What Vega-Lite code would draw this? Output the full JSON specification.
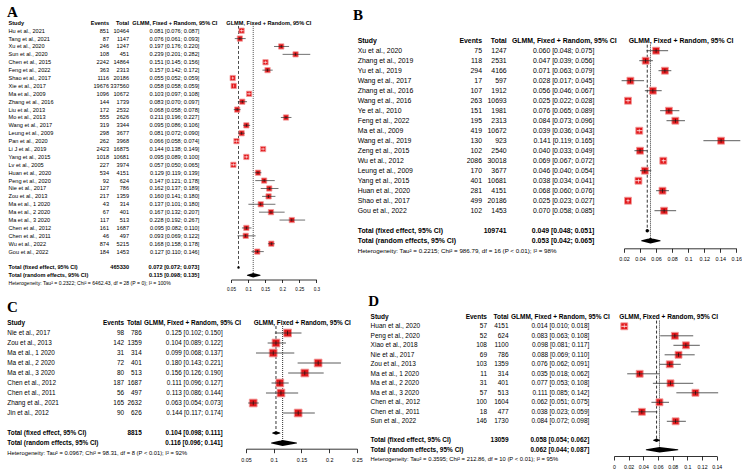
{
"$schema":"https://vega.github.io/schema/vega-lite/v6.json",
"padding":0,
"background":"white",
"spacing":0,
"config":{"view":{"stroke":null},"font":"Liberation Sans","text":{"color":"black"},"axis":{"grid":false,"domainColor":"black","domainWidth":0.8,"tickColor":"black","tickWidth":0.8,"labelColor":"black","labelFlush":false,"labelOverlap":false,"labelFont":"Liberation Sans"}},
"datasets":{
"A":[
{"i":0,"kind":"header","panel":"A","study":"Study","events":"Events","total":"Total","ci":"GLMM, Fixed + Random, 95% CI"},
{"i":1,"kind":"study","study":"Hu et al., 2021","events":851,"total":10464,"ci":"0.081 [0.076; 0.087]","est":0.081,"lo":0.076,"hi":0.087},
{"i":2,"kind":"study","study":"Tang et al., 2021","events":87,"total":1147,"ci":"0.076 [0.061; 0.093]","est":0.076,"lo":0.061,"hi":0.093},
{"i":3,"kind":"study","study":"Xu et al., 2020","events":246,"total":1247,"ci":"0.197 [0.176; 0.220]","est":0.197,"lo":0.176,"hi":0.220},
{"i":4,"kind":"study","study":"Sun et al., 2020","events":108,"total":451,"ci":"0.239 [0.201; 0.282]","est":0.239,"lo":0.201,"hi":0.282},
{"i":5,"kind":"study","study":"Chen et al., 2015","events":2242,"total":14864,"ci":"0.151 [0.145; 0.156]","est":0.151,"lo":0.145,"hi":0.156},
{"i":6,"kind":"study","study":"Feng et al., 2022","events":363,"total":2313,"ci":"0.157 [0.142; 0.172]","est":0.157,"lo":0.142,"hi":0.172},
{"i":7,"kind":"study","study":"Shao et al., 2017","events":1116,"total":20186,"ci":"0.055 [0.052; 0.059]","est":0.055,"lo":0.052,"hi":0.059},
{"i":8,"kind":"study","study":"Xie et al., 2017","events":19676,"total":337560,"ci":"0.058 [0.058; 0.059]","est":0.058,"lo":0.058,"hi":0.059},
{"i":9,"kind":"study","study":"Ma et al., 2009","events":1096,"total":10672,"ci":"0.103 [0.097; 0.108]","est":0.103,"lo":0.097,"hi":0.108},
{"i":10,"kind":"study","study":"Zhang et al., 2016","events":144,"total":1739,"ci":"0.083 [0.070; 0.097]","est":0.083,"lo":0.070,"hi":0.097},
{"i":11,"kind":"study","study":"Liu et al., 2013","events":172,"total":2532,"ci":"0.068 [0.058; 0.078]","est":0.068,"lo":0.058,"hi":0.078},
{"i":12,"kind":"study","study":"Mo et al., 2013","events":555,"total":2626,"ci":"0.211 [0.196; 0.227]","est":0.211,"lo":0.196,"hi":0.227},
{"i":13,"kind":"study","study":"Wang et al., 2017","events":319,"total":3344,"ci":"0.095 [0.086; 0.106]","est":0.095,"lo":0.086,"hi":0.106},
{"i":14,"kind":"study","study":"Leung et al., 2009","events":298,"total":3677,"ci":"0.081 [0.072; 0.090]","est":0.081,"lo":0.072,"hi":0.090},
{"i":15,"kind":"study","study":"Pan et al., 2020","events":262,"total":3968,"ci":"0.066 [0.058; 0.074]","est":0.066,"lo":0.058,"hi":0.074},
{"i":16,"kind":"study","study":"Li J et al., 2019","events":2423,"total":16875,"ci":"0.144 [0.138; 0.149]","est":0.144,"lo":0.138,"hi":0.149},
{"i":17,"kind":"study","study":"Yang et al., 2015","events":1018,"total":10681,"ci":"0.095 [0.089; 0.100]","est":0.095,"lo":0.089,"hi":0.100},
{"i":18,"kind":"study","study":"Lv et al., 2005","events":227,"total":3974,"ci":"0.057 [0.050; 0.065]","est":0.057,"lo":0.050,"hi":0.065},
{"i":19,"kind":"study","study":"Huan et al., 2020","events":534,"total":4151,"ci":"0.129 [0.119; 0.139]","est":0.129,"lo":0.119,"hi":0.139},
{"i":20,"kind":"study","study":"Peng et al., 2020","events":92,"total":624,"ci":"0.147 [0.121; 0.178]","est":0.147,"lo":0.121,"hi":0.178},
{"i":21,"kind":"study","study":"Nie et al., 2017","events":127,"total":786,"ci":"0.162 [0.137; 0.189]","est":0.162,"lo":0.137,"hi":0.189},
{"i":22,"kind":"study","study":"Zou et al., 2013","events":217,"total":1359,"ci":"0.160 [0.141; 0.180]","est":0.160,"lo":0.141,"hi":0.180},
{"i":23,"kind":"study","study":"Ma  et al., 1 2020","events":43,"total":314,"ci":"0.137 [0.101; 0.180]","est":0.137,"lo":0.101,"hi":0.180},
{"i":24,"kind":"study","study":"Ma  et al., 2 2020","events":67,"total":401,"ci":"0.167 [0.132; 0.207]","est":0.167,"lo":0.132,"hi":0.207},
{"i":25,"kind":"study","study":"Ma  et al., 3 2020","events":117,"total":513,"ci":"0.228 [0.192; 0.267]","est":0.228,"lo":0.192,"hi":0.267},
{"i":26,"kind":"study","study":"Chen et al., 2012","events":161,"total":1687,"ci":"0.095 [0.082; 0.110]","est":0.095,"lo":0.082,"hi":0.110},
{"i":27,"kind":"study","study":"Chen et al., 2011","events":46,"total":497,"ci":"0.093 [0.069; 0.122]","est":0.093,"lo":0.069,"hi":0.122},
{"i":28,"kind":"study","study":"Wu et al., 2022","events":874,"total":5215,"ci":"0.168 [0.158; 0.178]","est":0.168,"lo":0.158,"hi":0.178},
{"i":29,"kind":"study","study":"Gou et al., 2022","events":184,"total":1453,"ci":"0.127 [0.110; 0.146]","est":0.127,"lo":0.110,"hi":0.146},
{"i":31,"kind":"fixed","study":"Total (fixed effect, 95% CI)","total":465330,"ci":"0.072 [0.072; 0.073]","est":0.072,"lo":0.0715,"hi":0.073},
{"i":32,"kind":"random","study":"Total (random effects, 95% CI)","ci":"0.115 [0.098; 0.135]","est":0.115,"lo":0.098,"hi":0.135},
{"i":33,"kind":"het","study":"Heterogeneity: Tau² = 0.2322; Chi² = 6462.43, df = 28 (P = 0); I² = 100%"}
],
"B":[
{"i":0,"kind":"header","panel":"B","study":"Study","events":"Events","total":"Total","ci":"GLMM, Fixed + Random, 95% CI"},
{"i":1,"kind":"study","study":"Xu et al., 2020","events":75,"total":1247,"ci":"0.060 [0.048; 0.075]","est":0.060,"lo":0.048,"hi":0.075},
{"i":2,"kind":"study","study":"Zhang et al., 2019","events":118,"total":2531,"ci":"0.047 [0.039; 0.056]","est":0.047,"lo":0.039,"hi":0.056},
{"i":3,"kind":"study","study":"Yu et al., 2019","events":294,"total":4166,"ci":"0.071 [0.063; 0.079]","est":0.071,"lo":0.063,"hi":0.079},
{"i":4,"kind":"study","study":"Wang et al., 2017","events":17,"total":597,"ci":"0.028 [0.017; 0.045]","est":0.028,"lo":0.017,"hi":0.045},
{"i":5,"kind":"study","study":"Zhang et al., 2016","events":107,"total":1912,"ci":"0.056 [0.046; 0.067]","est":0.056,"lo":0.046,"hi":0.067},
{"i":6,"kind":"study","study":"Wang et al., 2016","events":263,"total":10693,"ci":"0.025 [0.022; 0.028]","est":0.025,"lo":0.022,"hi":0.028},
{"i":7,"kind":"study","study":"Ye et al., 2010","events":151,"total":1981,"ci":"0.076 [0.065; 0.089]","est":0.076,"lo":0.065,"hi":0.089},
{"i":8,"kind":"study","study":"Feng et al., 2022","events":195,"total":2313,"ci":"0.084 [0.073; 0.096]","est":0.084,"lo":0.073,"hi":0.096},
{"i":9,"kind":"study","study":"Ma et al., 2009","events":419,"total":10672,"ci":"0.039 [0.036; 0.043]","est":0.039,"lo":0.036,"hi":0.043},
{"i":10,"kind":"study","study":"Wang et al., 2019","events":130,"total":923,"ci":"0.141 [0.119; 0.165]","est":0.141,"lo":0.119,"hi":0.165},
{"i":11,"kind":"study","study":"Zeng et al., 2015","events":102,"total":2540,"ci":"0.040 [0.033; 0.049]","est":0.040,"lo":0.033,"hi":0.049},
{"i":12,"kind":"study","study":"Wu et al., 2012","events":2086,"total":30018,"ci":"0.069 [0.067; 0.072]","est":0.069,"lo":0.067,"hi":0.072},
{"i":13,"kind":"study","study":"Leung et al., 2009","events":170,"total":3677,"ci":"0.046 [0.040; 0.054]","est":0.046,"lo":0.040,"hi":0.054},
{"i":14,"kind":"study","study":"Yang et al., 2015","events":401,"total":10681,"ci":"0.038 [0.034; 0.041]","est":0.038,"lo":0.034,"hi":0.041},
{"i":15,"kind":"study","study":"Huan et al., 2020","events":281,"total":4151,"ci":"0.068 [0.060; 0.076]","est":0.068,"lo":0.060,"hi":0.076},
{"i":16,"kind":"study","study":"Shao et al., 2017","events":499,"total":20186,"ci":"0.025 [0.023; 0.027]","est":0.025,"lo":0.023,"hi":0.027},
{"i":17,"kind":"study","study":"Gou et al., 2022","events":102,"total":1453,"ci":"0.070 [0.058; 0.085]","est":0.070,"lo":0.058,"hi":0.085},
{"i":19,"kind":"fixed","study":"Total (fixed effect, 95% CI)","total":109741,"ci":"0.049 [0.048; 0.051]","est":0.049,"lo":0.048,"hi":0.051},
{"i":20,"kind":"random","study":"Total (random effects, 95% CI)","ci":"0.053 [0.042; 0.065]","est":0.053,"lo":0.042,"hi":0.065},
{"i":21,"kind":"het","study":"Heterogeneity: Tau² = 0.2215; Chi² = 986.79, df = 16 (P < 0.01); I² = 98%"}
],
"C":[
{"i":0,"kind":"header","panel":"C","study":"Study","events":"Events","total":"Total","ci":"GLMM, Fixed + Random, 95% CI"},
{"i":1,"kind":"study","study":"Nie et al., 2017","events":98,"total":786,"ci":"0.125 [0.102; 0.150]","est":0.125,"lo":0.102,"hi":0.150},
{"i":2,"kind":"study","study":"Zou et al., 2013","events":142,"total":1359,"ci":"0.104 [0.089; 0.122]","est":0.104,"lo":0.089,"hi":0.122},
{"i":3,"kind":"study","study":"Ma  et al., 1 2020","events":31,"total":314,"ci":"0.099 [0.068; 0.137]","est":0.099,"lo":0.068,"hi":0.137},
{"i":4,"kind":"study","study":"Ma  et al., 2 2020","events":72,"total":401,"ci":"0.180 [0.143; 0.221]","est":0.180,"lo":0.143,"hi":0.221},
{"i":5,"kind":"study","study":"Ma  et al., 3 2020","events":80,"total":513,"ci":"0.156 [0.126; 0.190]","est":0.156,"lo":0.126,"hi":0.190},
{"i":6,"kind":"study","study":"Chen et al., 2012","events":187,"total":1687,"ci":"0.111 [0.096; 0.127]","est":0.111,"lo":0.096,"hi":0.127},
{"i":7,"kind":"study","study":"Chen et al., 2011","events":56,"total":497,"ci":"0.113 [0.086; 0.144]","est":0.113,"lo":0.086,"hi":0.144},
{"i":8,"kind":"study","study":"Zhang et al., 2021","events":165,"total":2632,"ci":"0.063 [0.054; 0.073]","est":0.063,"lo":0.054,"hi":0.073},
{"i":9,"kind":"study","study":"Jin et al., 2012","events":90,"total":626,"ci":"0.144 [0.117; 0.174]","est":0.144,"lo":0.117,"hi":0.174},
{"i":11,"kind":"fixed","study":"Total (fixed effect, 95% CI)","total":8815,"ci":"0.104 [0.098; 0.111]","est":0.104,"lo":0.098,"hi":0.111},
{"i":12,"kind":"random","study":"Total (random effects, 95% CI)","ci":"0.116 [0.096; 0.141]","est":0.116,"lo":0.096,"hi":0.141},
{"i":13,"kind":"het","study":"Heterogeneity: Tau² = 0.0967; Chi² = 98.31, df = 8 (P < 0.01); I² = 92%"}
],
"D":[
{"i":0,"kind":"header","panel":"D","study":"Study","events":"Events","total":"Total","ci":"GLMM, Fixed + Random, 95% CI"},
{"i":1,"kind":"study","study":"Huan et al., 2020","events":57,"total":4151,"ci":"0.014 [0.010; 0.018]","est":0.014,"lo":0.010,"hi":0.018},
{"i":2,"kind":"study","study":"Peng et al., 2020","events":52,"total":624,"ci":"0.083 [0.063; 0.108]","est":0.083,"lo":0.063,"hi":0.108},
{"i":3,"kind":"study","study":"Xiao et al., 2018","events":108,"total":1100,"ci":"0.098 [0.081; 0.117]","est":0.098,"lo":0.081,"hi":0.117},
{"i":4,"kind":"study","study":"Nie et al., 2017","events":69,"total":786,"ci":"0.088 [0.069; 0.110]","est":0.088,"lo":0.069,"hi":0.110},
{"i":5,"kind":"study","study":"Zou et al., 2013","events":103,"total":1359,"ci":"0.076 [0.062; 0.091]","est":0.076,"lo":0.062,"hi":0.091},
{"i":6,"kind":"study","study":"Ma  et al., 1 2020","events":11,"total":314,"ci":"0.035 [0.018; 0.062]","est":0.035,"lo":0.018,"hi":0.062},
{"i":7,"kind":"study","study":"Ma  et al., 2 2020","events":31,"total":401,"ci":"0.077 [0.053; 0.108]","est":0.077,"lo":0.053,"hi":0.108},
{"i":8,"kind":"study","study":"Ma  et al., 3 2020","events":57,"total":513,"ci":"0.111 [0.085; 0.142]","est":0.111,"lo":0.085,"hi":0.142},
{"i":9,"kind":"study","study":"Chen et al., 2012","events":100,"total":1604,"ci":"0.062 [0.051; 0.075]","est":0.062,"lo":0.051,"hi":0.075},
{"i":10,"kind":"study","study":"Chen et al., 2011","events":18,"total":477,"ci":"0.038 [0.023; 0.059]","est":0.038,"lo":0.023,"hi":0.059},
{"i":11,"kind":"study","study":"Sun et al., 2022","events":146,"total":1730,"ci":"0.084 [0.072; 0.098]","est":0.084,"lo":0.072,"hi":0.098},
{"i":13,"kind":"fixed","study":"Total (fixed effect, 95% CI)","total":13059,"ci":"0.058 [0.054; 0.062]","est":0.058,"lo":0.054,"hi":0.062},
{"i":14,"kind":"random","study":"Total (random effects, 95% CI)","ci":"0.062 [0.044; 0.087]","est":0.062,"lo":0.044,"hi":0.087},
{"i":15,"kind":"het","study":"Heterogeneity: Tau² = 0.3595; Chi² = 212.86, df = 10 (P < 0.01); I² = 95%"}
]
},
"vconcat":[
{"hconcat":[
  {"width":230.6,"height":293,"data":{"name":"A"},
   "encoding":{"y":{"field":"i","type":"quantitative","axis":null,"scale":{"domain":[-2.89,34.246],"reverse":true,"nice":false,"zero":false}}},
   "layer":[
    {"transform":[{"filter":"datum.kind == 'study'"}],"mark":{"type":"text","align":"left","baseline":"middle","fontSize":5.6},"encoding":{"x":{"datum":8.5,"type":"quantitative","axis":null,"scale":{"domain":[0,230.6],"nice":false,"zero":false}},"text":{"field":"study","type":"nominal"}}},
    {"transform":[{"filter":"datum.kind == 'header' || datum.kind == 'fixed' || datum.kind == 'random'"}],"mark":{"type":"text","align":"left","baseline":"middle","fontSize":5.6,"fontWeight":"bold"},"encoding":{"x":{"datum":8.5,"type":"quantitative","axis":null,"scale":{"domain":[0,230.6],"nice":false,"zero":false}},"text":{"field":"study","type":"nominal"}}},
    {"transform":[{"filter":"datum.kind == 'het'"}],"mark":{"type":"text","align":"left","baseline":"middle","fontSize":5.1},"encoding":{"x":{"datum":8.5,"type":"quantitative","axis":null,"scale":{"domain":[0,230.6],"nice":false,"zero":false}},"text":{"field":"study","type":"nominal"}}},
    {"transform":[{"filter":"datum.kind == 'study'"}],"mark":{"type":"text","align":"right","baseline":"middle","fontSize":5.6},"encoding":{"x":{"datum":109,"type":"quantitative","axis":null,"scale":{"domain":[0,230.6],"nice":false,"zero":false}},"text":{"field":"events","type":"nominal"}}},
    {"transform":[{"filter":"datum.kind == 'header'"}],"mark":{"type":"text","align":"right","baseline":"middle","fontSize":5.6,"fontWeight":"bold"},"encoding":{"x":{"datum":109,"type":"quantitative","axis":null,"scale":{"domain":[0,230.6],"nice":false,"zero":false}},"text":{"field":"events","type":"nominal"}}},
    {"transform":[{"filter":"datum.kind == 'study'"}],"mark":{"type":"text","align":"right","baseline":"middle","fontSize":5.6},"encoding":{"x":{"datum":129,"type":"quantitative","axis":null,"scale":{"domain":[0,230.6],"nice":false,"zero":false}},"text":{"field":"total","type":"nominal"}}},
    {"transform":[{"filter":"datum.kind == 'header' || datum.kind == 'fixed'"}],"mark":{"type":"text","align":"right","baseline":"middle","fontSize":5.6,"fontWeight":"bold"},"encoding":{"x":{"datum":129,"type":"quantitative","axis":null,"scale":{"domain":[0,230.6],"nice":false,"zero":false}},"text":{"field":"total","type":"nominal"}}},
    {"transform":[{"filter":"datum.kind == 'study'"}],"mark":{"type":"text","align":"right","baseline":"middle","fontSize":5.6},"encoding":{"x":{"datum":199.3,"type":"quantitative","axis":null,"scale":{"domain":[0,230.6],"nice":false,"zero":false}},"text":{"field":"ci","type":"nominal"}}},
    {"transform":[{"filter":"datum.kind == 'fixed' || datum.kind == 'random'"}],"mark":{"type":"text","align":"right","baseline":"middle","fontSize":5.6,"fontWeight":"bold"},"encoding":{"x":{"datum":199.3,"type":"quantitative","axis":null,"scale":{"domain":[0,230.6],"nice":false,"zero":false}},"text":{"field":"ci","type":"nominal"}}},
    {"transform":[{"filter":"datum.kind == 'header'"}],"mark":{"type":"text","align":"left","baseline":"middle","fontSize":5.6,"fontWeight":"bold"},"encoding":{"x":{"datum":132.3,"type":"quantitative","axis":null,"scale":{"domain":[0,230.6],"nice":false,"zero":false}},"text":{"field":"ci","type":"nominal"}}},
    {"transform":[{"filter":"datum.kind == 'header'"}],"mark":{"type":"text","align":"left","baseline":"alphabetic","fontSize":15,"font":"Liberation Serif","fontWeight":"bold"},"encoding":{"x":{"datum":7,"type":"quantitative","axis":null,"scale":{"domain":[0,230.6],"nice":false,"zero":false}},"y":{"datum":-0.735,"type":"quantitative","axis":null},"text":{"field":"panel","type":"nominal"}}}
   ]},
  {"width":85.4,"height":279.5,"data":{"name":"A"},
   "encoding":{"y":{"field":"i","type":"quantitative","axis":null,"scale":{"domain":[-2.89,32.535],"reverse":true,"nice":false,"zero":false}}},
   "layer":[
    {"transform":[{"filter":"datum.kind == 'header'"}],"mark":{"type":"text","align":"center","baseline":"middle","fontSize":5.6,"fontWeight":"bold"},"encoding":{"x":{"datum":0.1608,"type":"quantitative","scale":{"domain":[0.05,0.3],"nice":false,"zero":false},"axis":{"title":null,"values":[0.05,0.1,0.15,0.2,0.25,0.3],"format":"~g","tickSize":3,"labelFontSize":4.6,"labelPadding":3.5}},"text":{"field":"ci","type":"nominal"}}},
    {"transform":[{"filter":"datum.kind == 'fixed'"}],"mark":{"type":"rule","color":"black","strokeWidth":0.7,"strokeDash":[3,2]},"encoding":{"x":{"field":"est","type":"quantitative","scale":{"domain":[0.05,0.3],"nice":false,"zero":false},"axis":{"title":null,"values":[0.05,0.1,0.15,0.2,0.25,0.3],"format":"~g","tickSize":3,"labelFontSize":4.6,"labelPadding":3.5}},"y":{"datum":0.4,"type":"quantitative","axis":null},"y2":{"field":"i"}}},
    {"transform":[{"filter":"datum.kind == 'random'"}],"mark":{"type":"rule","color":"black","strokeWidth":0.7,"strokeDash":[1,1]},"encoding":{"x":{"field":"est","type":"quantitative","scale":{"domain":[0.05,0.3],"nice":false,"zero":false},"axis":{"title":null,"values":[0.05,0.1,0.15,0.2,0.25,0.3],"format":"~g","tickSize":3,"labelFontSize":4.6,"labelPadding":3.5}},"y":{"datum":0.4,"type":"quantitative","axis":null},"y2":{"field":"i"}}},
    {"transform":[{"filter":"datum.kind == 'study'"}],"mark":{"type":"point","shape":"square","filled":true,"color":"#e3191c","stroke":"#f29b9b","strokeWidth":0.8,"size":28,"opacity":1},"encoding":{"x":{"field":"est","type":"quantitative","scale":{"domain":[0.05,0.3],"nice":false,"zero":false},"axis":{"title":null,"values":[0.05,0.1,0.15,0.2,0.25,0.3],"format":"~g","tickSize":3,"labelFontSize":4.6,"labelPadding":3.5}}}},
    {"transform":[{"filter":"datum.kind == 'study'"}],"mark":{"type":"rule","strokeWidth":0.7},"encoding":{"x":{"field":"lo","type":"quantitative","scale":{"domain":[0.05,0.3],"nice":false,"zero":false},"axis":{"title":null,"values":[0.05,0.1,0.15,0.2,0.25,0.3],"format":"~g","tickSize":3,"labelFontSize":4.6,"labelPadding":3.5}},"x2":{"field":"hi"},"color":{"condition":{"test":"datum.hi - datum.lo < 0.0175","value":"white"},"value":"#333333"}}},
    {"transform":[{"filter":"datum.kind == 'study'"}],"mark":{"type":"tick","orient":"vertical","size":3,"thickness":0.7},"encoding":{"x":{"field":"est","type":"quantitative","scale":{"domain":[0.05,0.3],"nice":false,"zero":false},"axis":{"title":null,"values":[0.05,0.1,0.15,0.2,0.25,0.3],"format":"~g","tickSize":3,"labelFontSize":4.6,"labelPadding":3.5}},"color":{"condition":{"test":"datum.hi - datum.lo < 0.0175","value":"white"},"value":"black"}}},
    {"transform":[{"filter":"datum.kind == 'fixed'"},{"fold":["lo","est","hi"],"as":["key","value"]}],"mark":{"type":"trail","color":"black"},"encoding":{"x":{"field":"value","type":"quantitative","scale":{"domain":[0.05,0.3],"nice":false,"zero":false},"axis":{"title":null,"values":[0.05,0.1,0.15,0.2,0.25,0.3],"format":"~g","tickSize":3,"labelFontSize":4.6,"labelPadding":3.5}},"size":{"condition":{"test":"datum.key == 'est'","value":2.5},"value":0}}},
    {"transform":[{"filter":"datum.kind == 'random'"},{"fold":["lo","est","hi"],"as":["key","value"]}],"mark":{"type":"trail","color":"black"},"encoding":{"x":{"field":"value","type":"quantitative","scale":{"domain":[0.05,0.3],"nice":false,"zero":false},"axis":{"title":null,"values":[0.05,0.1,0.15,0.2,0.25,0.3],"format":"~g","tickSize":3,"labelFontSize":4.6,"labelPadding":3.5}},"size":{"condition":{"test":"datum.key == 'est'","value":4.5},"value":0}}}
   ]},
  {"width":306.7,"height":293,"data":{"name":"B"},
   "encoding":{"y":{"field":"i","type":"quantitative","axis":null,"scale":{"domain":[-4.07,25.23],"reverse":true,"nice":false,"zero":false}}},
   "layer":[
    {"transform":[{"filter":"datum.kind == 'study'"}],"mark":{"type":"text","align":"left","baseline":"middle","fontSize":6.9},"encoding":{"x":{"datum":40.7,"type":"quantitative","axis":null,"scale":{"domain":[0,306.7],"nice":false,"zero":false}},"text":{"field":"study","type":"nominal"}}},
    {"transform":[{"filter":"datum.kind == 'header' || datum.kind == 'fixed' || datum.kind == 'random'"}],"mark":{"type":"text","align":"left","baseline":"middle","fontSize":6.9,"fontWeight":"bold"},"encoding":{"x":{"datum":40.7,"type":"quantitative","axis":null,"scale":{"domain":[0,306.7],"nice":false,"zero":false}},"text":{"field":"study","type":"nominal"}}},
    {"transform":[{"filter":"datum.kind == 'het'"}],"mark":{"type":"text","align":"left","baseline":"middle","fontSize":6.2},"encoding":{"x":{"datum":40.7,"type":"quantitative","axis":null,"scale":{"domain":[0,306.7],"nice":false,"zero":false}},"text":{"field":"study","type":"nominal"}}},
    {"transform":[{"filter":"datum.kind == 'study'"}],"mark":{"type":"text","align":"right","baseline":"middle","fontSize":6.9},"encoding":{"x":{"datum":165,"type":"quantitative","axis":null,"scale":{"domain":[0,306.7],"nice":false,"zero":false}},"text":{"field":"events","type":"nominal"}}},
    {"transform":[{"filter":"datum.kind == 'header'"}],"mark":{"type":"text","align":"right","baseline":"middle","fontSize":6.9,"fontWeight":"bold"},"encoding":{"x":{"datum":165,"type":"quantitative","axis":null,"scale":{"domain":[0,306.7],"nice":false,"zero":false}},"text":{"field":"events","type":"nominal"}}},
    {"transform":[{"filter":"datum.kind == 'study'"}],"mark":{"type":"text","align":"right","baseline":"middle","fontSize":6.9},"encoding":{"x":{"datum":189.7,"type":"quantitative","axis":null,"scale":{"domain":[0,306.7],"nice":false,"zero":false}},"text":{"field":"total","type":"nominal"}}},
    {"transform":[{"filter":"datum.kind == 'header' || datum.kind == 'fixed'"}],"mark":{"type":"text","align":"right","baseline":"middle","fontSize":6.9,"fontWeight":"bold"},"encoding":{"x":{"datum":189.7,"type":"quantitative","axis":null,"scale":{"domain":[0,306.7],"nice":false,"zero":false}},"text":{"field":"total","type":"nominal"}}},
    {"transform":[{"filter":"datum.kind == 'study'"}],"mark":{"type":"text","align":"right","baseline":"middle","fontSize":6.9},"encoding":{"x":{"datum":277.3,"type":"quantitative","axis":null,"scale":{"domain":[0,306.7],"nice":false,"zero":false}},"text":{"field":"ci","type":"nominal"}}},
    {"transform":[{"filter":"datum.kind == 'fixed' || datum.kind == 'random'"}],"mark":{"type":"text","align":"right","baseline":"middle","fontSize":6.9,"fontWeight":"bold"},"encoding":{"x":{"datum":277.3,"type":"quantitative","axis":null,"scale":{"domain":[0,306.7],"nice":false,"zero":false}},"text":{"field":"ci","type":"nominal"}}},
    {"transform":[{"filter":"datum.kind == 'header'"}],"mark":{"type":"text","align":"left","baseline":"middle","fontSize":6.9,"fontWeight":"bold"},"encoding":{"x":{"datum":195,"type":"quantitative","axis":null,"scale":{"domain":[0,306.7],"nice":false,"zero":false}},"text":{"field":"ci","type":"nominal"}}},
    {"transform":[{"filter":"datum.kind == 'header'"}],"mark":{"type":"text","align":"left","baseline":"alphabetic","fontSize":15,"font":"Liberation Serif","fontWeight":"bold"},"encoding":{"x":{"datum":36,"type":"quantitative","axis":null,"scale":{"domain":[0,306.7],"nice":false,"zero":false}},"y":{"datum":-2.07,"type":"quantitative","axis":null},"text":{"field":"panel","type":"nominal"}}}
   ]},
  {"width":112.3,"height":248.3,"data":{"name":"B"},
   "encoding":{"y":{"field":"i","type":"quantitative","axis":null,"scale":{"domain":[-4.07,20.76],"reverse":true,"nice":false,"zero":false}}},
   "layer":[
    {"transform":[{"filter":"datum.kind == 'header'"}],"mark":{"type":"text","align":"center","baseline":"middle","fontSize":6.9,"fontWeight":"bold"},"encoding":{"x":{"datum":0.0911,"type":"quantitative","scale":{"domain":[0.02,0.16],"nice":false,"zero":false},"axis":{"title":null,"values":[0.02,0.04,0.06,0.08,0.1,0.12,0.14,0.16],"format":"~g","tickSize":4,"labelFontSize":5.4,"labelPadding":4.5}},"text":{"field":"ci","type":"nominal"}}},
    {"transform":[{"filter":"datum.kind == 'fixed'"}],"mark":{"type":"rule","color":"black","strokeWidth":0.8,"strokeDash":[3,2]},"encoding":{"x":{"field":"est","type":"quantitative","scale":{"domain":[0.02,0.16],"nice":false,"zero":false},"axis":{"title":null,"values":[0.02,0.04,0.06,0.08,0.1,0.12,0.14,0.16],"format":"~g","tickSize":4,"labelFontSize":5.4,"labelPadding":4.5}},"y":{"datum":0.4,"type":"quantitative","axis":null},"y2":{"field":"i"}}},
    {"transform":[{"filter":"datum.kind == 'random'"}],"mark":{"type":"rule","color":"black","strokeWidth":0.8,"strokeDash":[1,1]},"encoding":{"x":{"field":"est","type":"quantitative","scale":{"domain":[0.02,0.16],"nice":false,"zero":false},"axis":{"title":null,"values":[0.02,0.04,0.06,0.08,0.1,0.12,0.14,0.16],"format":"~g","tickSize":4,"labelFontSize":5.4,"labelPadding":4.5}},"y":{"datum":0.4,"type":"quantitative","axis":null},"y2":{"field":"i"}}},
    {"transform":[{"filter":"datum.kind == 'study'"}],"mark":{"type":"point","shape":"square","filled":true,"color":"#e3191c","stroke":"#f29b9b","strokeWidth":0.9,"size":48,"opacity":1},"encoding":{"x":{"field":"est","type":"quantitative","scale":{"domain":[0.02,0.16],"nice":false,"zero":false},"axis":{"title":null,"values":[0.02,0.04,0.06,0.08,0.1,0.12,0.14,0.16],"format":"~g","tickSize":4,"labelFontSize":5.4,"labelPadding":4.5}}}},
    {"transform":[{"filter":"datum.kind == 'study'"}],"mark":{"type":"rule","strokeWidth":0.8},"encoding":{"x":{"field":"lo","type":"quantitative","scale":{"domain":[0.02,0.16],"nice":false,"zero":false},"axis":{"title":null,"values":[0.02,0.04,0.06,0.08,0.1,0.12,0.14,0.16],"format":"~g","tickSize":4,"labelFontSize":5.4,"labelPadding":4.5}},"x2":{"field":"hi"},"color":{"condition":{"test":"datum.hi - datum.lo < 0.0091","value":"white"},"value":"#333333"}}},
    {"transform":[{"filter":"datum.kind == 'study'"}],"mark":{"type":"tick","orient":"vertical","size":4,"thickness":0.8},"encoding":{"x":{"field":"est","type":"quantitative","scale":{"domain":[0.02,0.16],"nice":false,"zero":false},"axis":{"title":null,"values":[0.02,0.04,0.06,0.08,0.1,0.12,0.14,0.16],"format":"~g","tickSize":4,"labelFontSize":5.4,"labelPadding":4.5}},"color":{"condition":{"test":"datum.hi - datum.lo < 0.0091","value":"white"},"value":"black"}}},
    {"transform":[{"filter":"datum.kind == 'fixed'"},{"fold":["lo","est","hi"],"as":["key","value"]}],"mark":{"type":"trail","color":"black"},"encoding":{"x":{"field":"value","type":"quantitative","scale":{"domain":[0.02,0.16],"nice":false,"zero":false},"axis":{"title":null,"values":[0.02,0.04,0.06,0.08,0.1,0.12,0.14,0.16],"format":"~g","tickSize":4,"labelFontSize":5.4,"labelPadding":4.5}},"size":{"condition":{"test":"datum.key == 'est'","value":3.5},"value":0}}},
    {"transform":[{"filter":"datum.kind == 'random'"},{"fold":["lo","est","hi"],"as":["key","value"]}],"mark":{"type":"trail","color":"black"},"encoding":{"x":{"field":"value","type":"quantitative","scale":{"domain":[0.02,0.16],"nice":false,"zero":false},"axis":{"title":null,"values":[0.02,0.04,0.06,0.08,0.1,0.12,0.14,0.16],"format":"~g","tickSize":4,"labelFontSize":5.4,"labelPadding":4.5}},"size":{"condition":{"test":"datum.key == 'est'","value":5.5},"value":0}}}
   ]}
],"spacing":0,"bounds":"flush"},
{"hconcat":[
  {"width":245.7,"height":180,"data":{"name":"C"},
   "encoding":{"y":{"field":"i","type":"quantitative","axis":null,"scale":{"domain":[-2.8,15.2],"reverse":true,"nice":false,"zero":false}}},
   "layer":[
    {"transform":[{"filter":"datum.kind == 'study'"}],"mark":{"type":"text","align":"left","baseline":"middle","fontSize":6.4},"encoding":{"x":{"datum":7.3,"type":"quantitative","axis":null,"scale":{"domain":[0,245.7],"nice":false,"zero":false}},"text":{"field":"study","type":"nominal"}}},
    {"transform":[{"filter":"datum.kind == 'header' || datum.kind == 'fixed' || datum.kind == 'random'"}],"mark":{"type":"text","align":"left","baseline":"middle","fontSize":6.4,"fontWeight":"bold"},"encoding":{"x":{"datum":7.3,"type":"quantitative","axis":null,"scale":{"domain":[0,245.7],"nice":false,"zero":false}},"text":{"field":"study","type":"nominal"}}},
    {"transform":[{"filter":"datum.kind == 'het'"}],"mark":{"type":"text","align":"left","baseline":"middle","fontSize":5.8},"encoding":{"x":{"datum":7.3,"type":"quantitative","axis":null,"scale":{"domain":[0,245.7],"nice":false,"zero":false}},"text":{"field":"study","type":"nominal"}}},
    {"transform":[{"filter":"datum.kind == 'study'"}],"mark":{"type":"text","align":"right","baseline":"middle","fontSize":6.4},"encoding":{"x":{"datum":124,"type":"quantitative","axis":null,"scale":{"domain":[0,245.7],"nice":false,"zero":false}},"text":{"field":"events","type":"nominal"}}},
    {"transform":[{"filter":"datum.kind == 'header'"}],"mark":{"type":"text","align":"right","baseline":"middle","fontSize":6.4,"fontWeight":"bold"},"encoding":{"x":{"datum":124,"type":"quantitative","axis":null,"scale":{"domain":[0,245.7],"nice":false,"zero":false}},"text":{"field":"events","type":"nominal"}}},
    {"transform":[{"filter":"datum.kind == 'study'"}],"mark":{"type":"text","align":"right","baseline":"middle","fontSize":6.4},"encoding":{"x":{"datum":141.7,"type":"quantitative","axis":null,"scale":{"domain":[0,245.7],"nice":false,"zero":false}},"text":{"field":"total","type":"nominal"}}},
    {"transform":[{"filter":"datum.kind == 'header' || datum.kind == 'fixed'"}],"mark":{"type":"text","align":"right","baseline":"middle","fontSize":6.4,"fontWeight":"bold"},"encoding":{"x":{"datum":141.7,"type":"quantitative","axis":null,"scale":{"domain":[0,245.7],"nice":false,"zero":false}},"text":{"field":"total","type":"nominal"}}},
    {"transform":[{"filter":"datum.kind == 'study'"}],"mark":{"type":"text","align":"right","baseline":"middle","fontSize":6.4},"encoding":{"x":{"datum":222.7,"type":"quantitative","axis":null,"scale":{"domain":[0,245.7],"nice":false,"zero":false}},"text":{"field":"ci","type":"nominal"}}},
    {"transform":[{"filter":"datum.kind == 'fixed' || datum.kind == 'random'"}],"mark":{"type":"text","align":"right","baseline":"middle","fontSize":6.4,"fontWeight":"bold"},"encoding":{"x":{"datum":222.7,"type":"quantitative","axis":null,"scale":{"domain":[0,245.7],"nice":false,"zero":false}},"text":{"field":"ci","type":"nominal"}}},
    {"transform":[{"filter":"datum.kind == 'header'"}],"mark":{"type":"text","align":"left","baseline":"middle","fontSize":6.4,"fontWeight":"bold"},"encoding":{"x":{"datum":144,"type":"quantitative","axis":null,"scale":{"domain":[0,245.7],"nice":false,"zero":false}},"text":{"field":"ci","type":"nominal"}}},
    {"transform":[{"filter":"datum.kind == 'header'"}],"mark":{"type":"text","align":"left","baseline":"alphabetic","fontSize":15,"font":"Liberation Serif","fontWeight":"bold"},"encoding":{"x":{"datum":7,"type":"quantitative","axis":null,"scale":{"domain":[0,245.7],"nice":false,"zero":false}},"y":{"datum":-1.1,"type":"quantitative","axis":null},"text":{"field":"panel","type":"nominal"}}}
   ]},
  {"width":111,"height":153.7,"data":{"name":"C"},
   "encoding":{"y":{"field":"i","type":"quantitative","axis":null,"scale":{"domain":[-2.8,12.57],"reverse":true,"nice":false,"zero":false}}},
   "layer":[
    {"transform":[{"filter":"datum.kind == 'header'"}],"mark":{"type":"text","align":"center","baseline":"middle","fontSize":6.4,"fontWeight":"bold"},"encoding":{"x":{"datum":0.1514,"type":"quantitative","scale":{"domain":[0.05,0.25],"nice":false,"zero":false},"axis":{"title":null,"values":[0.05,0.1,0.15,0.2,0.25],"format":"~g","tickSize":4,"labelFontSize":5.4,"labelPadding":4.3}},"text":{"field":"ci","type":"nominal"}}},
    {"transform":[{"filter":"datum.kind == 'fixed'"}],"mark":{"type":"rule","color":"black","strokeWidth":0.8,"strokeDash":[3,2]},"encoding":{"x":{"field":"est","type":"quantitative","scale":{"domain":[0.05,0.25],"nice":false,"zero":false},"axis":{"title":null,"values":[0.05,0.1,0.15,0.2,0.25],"format":"~g","tickSize":4,"labelFontSize":5.4,"labelPadding":4.3}},"y":{"datum":0.3,"type":"quantitative","axis":null},"y2":{"field":"i"}}},
    {"transform":[{"filter":"datum.kind == 'random'"}],"mark":{"type":"rule","color":"black","strokeWidth":0.8,"strokeDash":[1,1]},"encoding":{"x":{"field":"est","type":"quantitative","scale":{"domain":[0.05,0.25],"nice":false,"zero":false},"axis":{"title":null,"values":[0.05,0.1,0.15,0.2,0.25],"format":"~g","tickSize":4,"labelFontSize":5.4,"labelPadding":4.3}},"y":{"datum":0.3,"type":"quantitative","axis":null},"y2":{"field":"i"}}},
    {"transform":[{"filter":"datum.kind == 'study'"}],"mark":{"type":"point","shape":"square","filled":true,"color":"#e3191c","stroke":"#f29b9b","strokeWidth":0.9,"size":60,"opacity":1},"encoding":{"x":{"field":"est","type":"quantitative","scale":{"domain":[0.05,0.25],"nice":false,"zero":false},"axis":{"title":null,"values":[0.05,0.1,0.15,0.2,0.25],"format":"~g","tickSize":4,"labelFontSize":5.4,"labelPadding":4.3}}}},
    {"transform":[{"filter":"datum.kind == 'study'"}],"mark":{"type":"rule","strokeWidth":0.8},"encoding":{"x":{"field":"lo","type":"quantitative","scale":{"domain":[0.05,0.25],"nice":false,"zero":false},"axis":{"title":null,"values":[0.05,0.1,0.15,0.2,0.25],"format":"~g","tickSize":4,"labelFontSize":5.4,"labelPadding":4.3}},"x2":{"field":"hi"},"color":{"condition":{"test":"datum.hi - datum.lo < 0.0153","value":"white"},"value":"#333333"}}},
    {"transform":[{"filter":"datum.kind == 'study'"}],"mark":{"type":"tick","orient":"vertical","size":4.5,"thickness":0.8},"encoding":{"x":{"field":"est","type":"quantitative","scale":{"domain":[0.05,0.25],"nice":false,"zero":false},"axis":{"title":null,"values":[0.05,0.1,0.15,0.2,0.25],"format":"~g","tickSize":4,"labelFontSize":5.4,"labelPadding":4.3}},"color":{"condition":{"test":"datum.hi - datum.lo < 0.0153","value":"white"},"value":"black"}}},
    {"transform":[{"filter":"datum.kind == 'fixed'"},{"fold":["lo","est","hi"],"as":["key","value"]}],"mark":{"type":"trail","color":"black"},"encoding":{"x":{"field":"value","type":"quantitative","scale":{"domain":[0.05,0.25],"nice":false,"zero":false},"axis":{"title":null,"values":[0.05,0.1,0.15,0.2,0.25],"format":"~g","tickSize":4,"labelFontSize":5.4,"labelPadding":4.3}},"size":{"condition":{"test":"datum.key == 'est'","value":3.5},"value":0}}},
    {"transform":[{"filter":"datum.kind == 'random'"},{"fold":["lo","est","hi"],"as":["key","value"]}],"mark":{"type":"trail","color":"black"},"encoding":{"x":{"field":"value","type":"quantitative","scale":{"domain":[0.05,0.25],"nice":false,"zero":false},"axis":{"title":null,"values":[0.05,0.1,0.15,0.2,0.25],"format":"~g","tickSize":4,"labelFontSize":5.4,"labelPadding":4.3}},"size":{"condition":{"test":"datum.key == 'est'","value":6},"value":0}}}
   ]},
  {"width":256.6,"height":180,"data":{"name":"D"},
   "encoding":{"y":{"field":"i","type":"quantitative","axis":null,"scale":{"domain":[-2.295,16.652],"reverse":true,"nice":false,"zero":false}}},
   "layer":[
    {"transform":[{"filter":"datum.kind == 'study'"}],"mark":{"type":"text","align":"left","baseline":"middle","fontSize":6.5},"encoding":{"x":{"datum":13.6,"type":"quantitative","axis":null,"scale":{"domain":[0,256.6],"nice":false,"zero":false}},"text":{"field":"study","type":"nominal"}}},
    {"transform":[{"filter":"datum.kind == 'header' || datum.kind == 'fixed' || datum.kind == 'random'"}],"mark":{"type":"text","align":"left","baseline":"middle","fontSize":6.5,"fontWeight":"bold"},"encoding":{"x":{"datum":13.6,"type":"quantitative","axis":null,"scale":{"domain":[0,256.6],"nice":false,"zero":false}},"text":{"field":"study","type":"nominal"}}},
    {"transform":[{"filter":"datum.kind == 'het'"}],"mark":{"type":"text","align":"left","baseline":"middle","fontSize":5.85},"encoding":{"x":{"datum":13.6,"type":"quantitative","axis":null,"scale":{"domain":[0,256.6],"nice":false,"zero":false}},"text":{"field":"study","type":"nominal"}}},
    {"transform":[{"filter":"datum.kind == 'study'"}],"mark":{"type":"text","align":"right","baseline":"middle","fontSize":6.5},"encoding":{"x":{"datum":130,"type":"quantitative","axis":null,"scale":{"domain":[0,256.6],"nice":false,"zero":false}},"text":{"field":"events","type":"nominal"}}},
    {"transform":[{"filter":"datum.kind == 'header'"}],"mark":{"type":"text","align":"right","baseline":"middle","fontSize":6.5,"fontWeight":"bold"},"encoding":{"x":{"datum":130,"type":"quantitative","axis":null,"scale":{"domain":[0,256.6],"nice":false,"zero":false}},"text":{"field":"events","type":"nominal"}}},
    {"transform":[{"filter":"datum.kind == 'study'"}],"mark":{"type":"text","align":"right","baseline":"middle","fontSize":6.5},"encoding":{"x":{"datum":151.6,"type":"quantitative","axis":null,"scale":{"domain":[0,256.6],"nice":false,"zero":false}},"text":{"field":"total","type":"nominal"}}},
    {"transform":[{"filter":"datum.kind == 'header' || datum.kind == 'fixed'"}],"mark":{"type":"text","align":"right","baseline":"middle","fontSize":6.5,"fontWeight":"bold"},"encoding":{"x":{"datum":151.6,"type":"quantitative","axis":null,"scale":{"domain":[0,256.6],"nice":false,"zero":false}},"text":{"field":"total","type":"nominal"}}},
    {"transform":[{"filter":"datum.kind == 'study'"}],"mark":{"type":"text","align":"right","baseline":"middle","fontSize":6.5},"encoding":{"x":{"datum":232.3,"type":"quantitative","axis":null,"scale":{"domain":[0,256.6],"nice":false,"zero":false}},"text":{"field":"ci","type":"nominal"}}},
    {"transform":[{"filter":"datum.kind == 'fixed' || datum.kind == 'random'"}],"mark":{"type":"text","align":"right","baseline":"middle","fontSize":6.5,"fontWeight":"bold"},"encoding":{"x":{"datum":232.3,"type":"quantitative","axis":null,"scale":{"domain":[0,256.6],"nice":false,"zero":false}},"text":{"field":"ci","type":"nominal"}}},
    {"transform":[{"filter":"datum.kind == 'header'"}],"mark":{"type":"text","align":"left","baseline":"middle","fontSize":6.5,"fontWeight":"bold"},"encoding":{"x":{"datum":154,"type":"quantitative","axis":null,"scale":{"domain":[0,256.6],"nice":false,"zero":false}},"text":{"field":"ci","type":"nominal"}}},
    {"transform":[{"filter":"datum.kind == 'header'"}],"mark":{"type":"text","align":"left","baseline":"alphabetic","fontSize":15,"font":"Liberation Serif","fontWeight":"bold"},"encoding":{"x":{"datum":11.3,"type":"quantitative","axis":null,"scale":{"domain":[0,256.6],"nice":false,"zero":false}},"y":{"datum":-1.14,"type":"quantitative","axis":null},"text":{"field":"panel","type":"nominal"}}}
   ]},
  {"width":102.7,"height":161,"data":{"name":"D"},
   "encoding":{"y":{"field":"i","type":"quantitative","axis":null,"scale":{"domain":[-2.295,14.653],"reverse":true,"nice":false,"zero":false}}},
   "layer":[
    {"transform":[{"filter":"datum.kind == 'header'"}],"mark":{"type":"text","align":"center","baseline":"middle","fontSize":6.5,"fontWeight":"bold"},"encoding":{"x":{"datum":0.0746,"type":"quantitative","scale":{"domain":[0,0.14],"nice":false,"zero":false},"axis":{"title":null,"values":[0,0.02,0.04,0.06,0.08,0.1,0.12,0.14],"format":"~g","tickSize":4,"labelFontSize":5.2,"labelPadding":4}},"text":{"field":"ci","type":"nominal"}}},
    {"transform":[{"filter":"datum.kind == 'fixed'"}],"mark":{"type":"rule","color":"black","strokeWidth":0.8,"strokeDash":[3,2]},"encoding":{"x":{"field":"est","type":"quantitative","scale":{"domain":[0,0.14],"nice":false,"zero":false},"axis":{"title":null,"values":[0,0.02,0.04,0.06,0.08,0.1,0.12,0.14],"format":"~g","tickSize":4,"labelFontSize":5.2,"labelPadding":4}},"y":{"datum":0.4,"type":"quantitative","axis":null},"y2":{"field":"i"}}},
    {"transform":[{"filter":"datum.kind == 'random'"}],"mark":{"type":"rule","color":"black","strokeWidth":0.8,"strokeDash":[1,1]},"encoding":{"x":{"field":"est","type":"quantitative","scale":{"domain":[0,0.14],"nice":false,"zero":false},"axis":{"title":null,"values":[0,0.02,0.04,0.06,0.08,0.1,0.12,0.14],"format":"~g","tickSize":4,"labelFontSize":5.2,"labelPadding":4}},"y":{"datum":0.4,"type":"quantitative","axis":null},"y2":{"field":"i"}}},
    {"transform":[{"filter":"datum.kind == 'study'"}],"mark":{"type":"point","shape":"square","filled":true,"color":"#e3191c","stroke":"#f29b9b","strokeWidth":0.9,"size":48,"opacity":1},"encoding":{"x":{"field":"est","type":"quantitative","scale":{"domain":[0,0.14],"nice":false,"zero":false},"axis":{"title":null,"values":[0,0.02,0.04,0.06,0.08,0.1,0.12,0.14],"format":"~g","tickSize":4,"labelFontSize":5.2,"labelPadding":4}}}},
    {"transform":[{"filter":"datum.kind == 'study'"}],"mark":{"type":"rule","strokeWidth":0.8},"encoding":{"x":{"field":"lo","type":"quantitative","scale":{"domain":[0,0.14],"nice":false,"zero":false},"axis":{"title":null,"values":[0,0.02,0.04,0.06,0.08,0.1,0.12,0.14],"format":"~g","tickSize":4,"labelFontSize":5.2,"labelPadding":4}},"x2":{"field":"hi"},"color":{"condition":{"test":"datum.hi - datum.lo < 0.0102","value":"white"},"value":"#333333"}}},
    {"transform":[{"filter":"datum.kind == 'study'"}],"mark":{"type":"tick","orient":"vertical","size":4,"thickness":0.8},"encoding":{"x":{"field":"est","type":"quantitative","scale":{"domain":[0,0.14],"nice":false,"zero":false},"axis":{"title":null,"values":[0,0.02,0.04,0.06,0.08,0.1,0.12,0.14],"format":"~g","tickSize":4,"labelFontSize":5.2,"labelPadding":4}},"color":{"condition":{"test":"datum.hi - datum.lo < 0.0102","value":"white"},"value":"black"}}},
    {"transform":[{"filter":"datum.kind == 'fixed'"},{"fold":["lo","est","hi"],"as":["key","value"]}],"mark":{"type":"trail","color":"black"},"encoding":{"x":{"field":"value","type":"quantitative","scale":{"domain":[0,0.14],"nice":false,"zero":false},"axis":{"title":null,"values":[0,0.02,0.04,0.06,0.08,0.1,0.12,0.14],"format":"~g","tickSize":4,"labelFontSize":5.2,"labelPadding":4}},"size":{"condition":{"test":"datum.key == 'est'","value":3.5},"value":0}}},
    {"transform":[{"filter":"datum.kind == 'random'"},{"fold":["lo","est","hi"],"as":["key","value"]}],"mark":{"type":"trail","color":"black"},"encoding":{"x":{"field":"value","type":"quantitative","scale":{"domain":[0,0.14],"nice":false,"zero":false},"axis":{"title":null,"values":[0,0.02,0.04,0.06,0.08,0.1,0.12,0.14],"format":"~g","tickSize":4,"labelFontSize":5.2,"labelPadding":4}},"size":{"condition":{"test":"datum.key == 'est'","value":5.5},"value":0}}}
   ]}
],"spacing":0,"bounds":"flush"}
]
}
